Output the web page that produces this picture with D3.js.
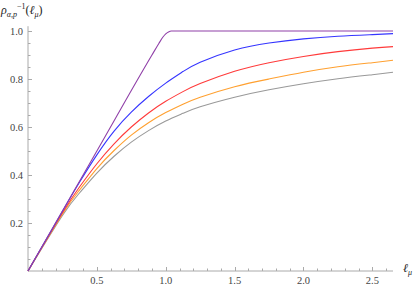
<!DOCTYPE html>
<meta charset="utf-8">
<html>
<body style="margin:0;background:#fff">
<div id="my_dataviz"></div>
<script src="https://d3js.org/d3.v7.min.js"></script>
<script>

// values
var xs      = [0, 0.25, 0.375, 0.5, 0.625, 0.75, 0.875, 1.0, 1.125, 1.25, 1.5, 1.75, 2.0, 2.25, 2.5, 2.65];
var blue    = [0, 0.249, 0.371, 0.484, 0.583, 0.662, 0.727, 0.783, 0.831, 0.87, 0.921, 0.95, 0.967, 0.978, 0.985, 0.989];
var red     = [0, 0.2425, 0.351, 0.447, 0.53, 0.6, 0.6585, 0.707, 0.7474, 0.781, 0.832, 0.868, 0.894, 0.914, 0.9285, 0.935];
var orange  = [0, 0.238, 0.338, 0.427, 0.502, 0.566, 0.618, 0.66, 0.695, 0.724, 0.768, 0.8, 0.828, 0.851, 0.868, 0.878];
var gray    = [0, 0.231, 0.326, 0.408, 0.478, 0.537, 0.585, 0.625, 0.657, 0.684, 0.724, 0.755, 0.78, 0.801, 0.818, 0.828];
var purpleX = [0, 0.5, 0.9, 0.95, 0.98, 1.0, 1.02, 1.04, 1.06, 2.65];
var purpleY = [0, 0.5, 0.9, 0.948, 0.975, 0.988, 0.996, 1.0, 1.0, 1.0];

var xMajor = [0.5, 1.0, 1.5, 2.0, 2.5];
var yMajor = [0.2, 0.4, 0.6, 0.8, 1.0];

var width = 415, height = 286;
var serif = "'Liberation Serif', 'Times New Roman', serif";

var svg = d3.select("#my_dataviz")
  .append("svg")
    .attr("width", width)
    .attr("height", height);

var x = d3.scaleLinear().domain([0, 2.65]).range([28, 393]);
var y = d3.scaleLinear().domain([0, 1.0]).range([271, 31]);

var axisColor = "#aaaaaa";

// axes lines
svg.append("line")
  .attr("x1", x(0)).attr("x2", x(2.65))
  .attr("y1", y(0)).attr("y2", y(0))
  .attr("stroke", axisColor).attr("stroke-width", 1);
svg.append("line")
  .attr("x1", x(0)).attr("x2", x(0))
  .attr("y1", y(0)).attr("y2", y(1.02))
  .attr("stroke", axisColor).attr("stroke-width", 1);

// x ticks (minor every 0.1)
var xTicks = d3.range(1, 27).map(function(i) { return i / 10; });
svg.selectAll("xtick")
  .data(xTicks)
  .enter()
  .append("line")
    .attr("x1", function(d) { return Math.round(x(d)) + 0.5; })
    .attr("x2", function(d) { return Math.round(x(d)) + 0.5; })
    .attr("y1", y(0))
    .attr("y2", function(d) { return y(0) - (Math.abs(d * 2 - Math.round(d * 2)) < 1e-6 ? 4 : 2.5); })
    .attr("stroke", axisColor).attr("stroke-width", 1);

// y ticks (minor every 0.05)
var yTicks = d3.range(1, 21).map(function(i) { return i / 20; });
svg.selectAll("ytick")
  .data(yTicks)
  .enter()
  .append("line")
    .attr("x1", x(0))
    .attr("x2", function(d) { return x(0) + (Math.abs(d * 5 - Math.round(d * 5)) < 1e-6 ? 4 : 2.5); })
    .attr("y1", function(d) { return Math.round(y(d)) + 0.5; })
    .attr("y2", function(d) { return Math.round(y(d)) + 0.5; })
    .attr("stroke", axisColor).attr("stroke-width", 1);

// tick labels
svg.selectAll("xlab")
  .data(xMajor)
  .enter()
  .append("text")
    .attr("font-family", serif)
    .attr("font-size", 10.5)
    .attr("fill", "#444")
    .attr("x", function(d) { return x(d); })
    .attr("y", 284)
    .attr("text-anchor", "middle")
    .text(function(d) { return d.toFixed(1); });

svg.selectAll("ylab")
  .data(yMajor)
  .enter()
  .append("text")
    .attr("font-family", serif)
    .attr("font-size", 10.5)
    .attr("fill", "#444")
    .attr("x", 23)
    .attr("y", function(d) { return y(d); })
    .attr("dy", "0.35em")
    .attr("text-anchor", "end")
    .text(function(d) { return d.toFixed(1); });

// curves
var smooth = d3.line()
  .x(function(d) { return x(d[0]); })
  .y(function(d) { return y(d[1]); })
  .curve(d3.curveNatural);

var corner = d3.line()
  .x(function(d) { return x(d[0]); })
  .y(function(d) { return y(d[1]); })
  .curve(d3.curveMonotoneX);

var series = [
  { vals: d3.zip(xs, gray), color: "#999999", line: smooth },
  { vals: d3.zip(xs, orange), color: "#ffa030", line: smooth },
  { vals: d3.zip(xs, red), color: "#ff3a3a", line: smooth },
  { vals: d3.zip(xs, blue), color: "#3535ff", line: smooth },
  { vals: d3.zip(purpleX, purpleY), color: "#9040a8", line: corner }
];

svg.selectAll("curve")
  .data(series)
  .enter()
  .append("path")
    .attr("d", function(d) { return d.line(d.vals); })
    .attr("fill", "none")
    .attr("stroke", function(d) { return d.color; })
    .attr("stroke-width", 1.1);

// axis titles
var yt = svg.append("text").attr("font-family", serif).attr("font-size", 12).attr("fill", "#222").attr("x", 1).attr("y", 14);
yt.append("tspan").style("font-style", "italic").text("ρ");
yt.append("tspan").attr("font-size", 8).style("font-style", "italic").attr("dy", 3).text("α,p");
yt.append("tspan").attr("font-size", 8).attr("dy", -8).text("−1");
yt.append("tspan").attr("dy", 5).text("(");
yt.append("tspan").style("font-style", "italic").text("ℓ");
yt.append("tspan").attr("font-size", 8).style("font-style", "italic").attr("dy", 3).text("μ");
yt.append("tspan").attr("dy", -3).text(")");

var xt = svg.append("text").attr("font-family", serif).attr("font-size", 12).attr("fill", "#222").attr("x", 403).attr("y", 272);
xt.append("tspan").style("font-style", "italic").text("ℓ");
xt.append("tspan").attr("font-size", 8).style("font-style", "italic").attr("dy", 3).text("μ");

</script>
</body>
</html>
